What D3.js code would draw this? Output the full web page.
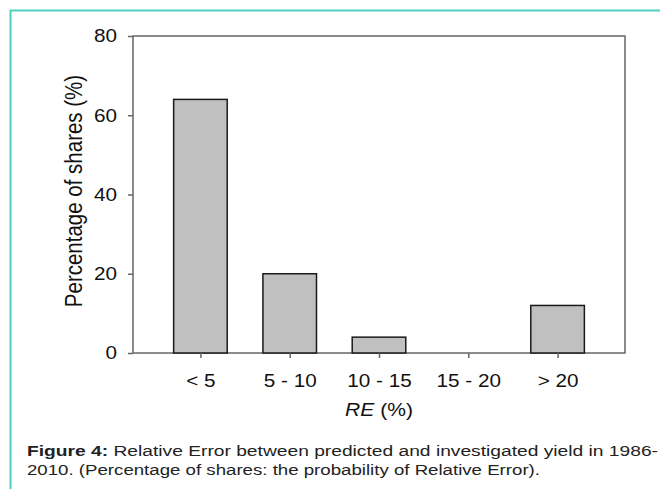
<!DOCTYPE html>
<html><head><meta charset="utf-8">
<script src="https://cdn.jsdelivr.net/npm/d3@7"></script>
<style>body{margin:0;background:#fff}svg{display:block}</style>
</head><body>
<svg id="c" width="660" height="489"></svg>
<script>
const categories = ["< 5", "5 - 10", "10 - 15", "15 - 20", "> 20"];
const values = [64, 20, 4, 0, 12];
const yTicks = [0, 20, 40, 60, 80];

const svg = d3.select("#c");
const L = 133, R = 625, T = 36, B = 353;
const FONT = "Liberation Sans, Arial, sans-serif";

// teal frame
svg.append("path").attr("d", "M10.5,489 V10.5 H660").attr("fill","none")
  .attr("stroke","#4ecfbf").attr("stroke-width",2);

const x = d3.scalePoint().domain(categories).range([L, R]).padding(0.755);
const y = d3.scaleLinear().domain([0, 80]).range([B, T]);
const bw = x.step() * 0.6;

svg.append("rect").attr("x", L).attr("y", T).attr("width", R - L).attr("height", B - T)
  .attr("fill","none").attr("stroke","#666").attr("stroke-width",1.5);

svg.selectAll(".bar").data(values).join("rect")
  .attr("x", (d,i) => x(categories[i]) - bw/2)
  .attr("y", d => y(d))
  .attr("width", bw)
  .attr("height", d => B - y(d))
  .attr("fill", "#c0c0c0").attr("stroke", "#1a1a1a").attr("stroke-width", d => d > 0 ? 1.5 : 0);

const yAxis = d3.axisLeft(y).tickValues(yTicks).tickSize(5).tickPadding(9);
const gy = svg.append("g").attr("transform", `translate(${L},0)`).call(yAxis);
gy.select(".domain").remove();
gy.selectAll("line").attr("stroke","#666").attr("stroke-width",1.5);
gy.selectAll("text").attr("font-family",FONT).attr("font-size",18).attr("fill","#111")
  .attr("transform","scale(1.15,1)");

const xAxis = d3.axisBottom(x).tickSize(5).tickPadding(16);
const gx = svg.append("g").attr("transform", `translate(0,${B})`).call(xAxis);
gx.select(".domain").remove();
gx.selectAll("line").attr("stroke","#666").attr("stroke-width",1.5);
gx.selectAll("text").attr("font-family",FONT).attr("font-size",18).attr("fill","#111")
  .attr("transform","scale(1.15,1)");

// x title
const xt = svg.append("text")
  .attr("transform", `translate(${x(categories[2])},416) scale(1.17,1)`)
  .attr("text-anchor","middle")
  .attr("font-family",FONT).attr("font-size",18).attr("fill","#111");
xt.append("tspan").attr("font-style","italic").text("RE");
xt.append("tspan").text(" (%)");

// y title
svg.append("text").attr("transform", `translate(82,191) scale(1.17,1) rotate(-90)`).attr("text-anchor","middle")
  .attr("font-family",FONT).attr("font-size",20.5).attr("fill","#111")
  .text("Percentage of shares (%)");

// caption
const cap1 = svg.append("text").attr("x", 27).attr("y", 456)
  .attr("font-family",FONT).attr("font-size",14).attr("fill","#222")
  .attr("textLength", 631).attr("lengthAdjust","spacingAndGlyphs");
cap1.append("tspan").attr("font-weight","bold").text("Figure 4:");
cap1.append("tspan").text(" Relative Error between predicted and investigated yield in 1986-");
svg.append("text").attr("x", 27).attr("y", 475)
  .attr("font-family",FONT).attr("font-size",14).attr("fill","#222")
  .attr("textLength", 513).attr("lengthAdjust","spacingAndGlyphs")
  .text("2010. (Percentage of shares: the probability of Relative Error).");
</script>
</body></html>
